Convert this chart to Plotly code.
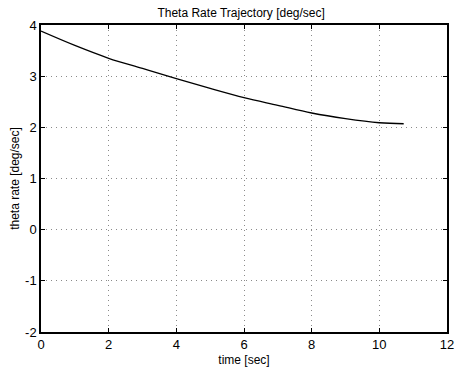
import plotly.graph_objects as go

# Theta rate trajectory samples
time_sec = [0, 1, 2, 3, 4, 5, 6, 7, 8, 9, 10, 10.72]
theta_rate = [3.88, 3.60, 3.35, 3.15, 2.95, 2.76, 2.58, 2.43, 2.28, 2.17, 2.09, 2.07]

x_ticks = [0, 2, 4, 6, 8, 10, 12]
y_ticks = [-2, -1, 0, 1, 2, 3, 4]
x_tick_text = [str(v) for v in x_ticks]
y_tick_text = [str(v) for v in y_ticks]  # plain hyphen-minus

font_family = "Liberation Sans, Arial, sans-serif"

fig = go.Figure()
fig.add_trace(go.Scatter(
    x=time_sec, y=theta_rate, mode="lines",
    line=dict(color="black", width=1.3, shape="spline"),
    showlegend=False,
))

axis_common = dict(
    showline=True, linecolor="black", linewidth=1.5, mirror="ticks",
    ticks="inside", ticklen=4, tickcolor="black", tickwidth=1,
    showgrid=True, gridcolor="#8a8a8a", gridwidth=1, griddash="1px,4px",
    zeroline=False, ticklabeloverflow="allow", automargin=False,
    tickfont=dict(family=font_family, size=13, color="black"),
)

fig.update_layout(
    width=455, height=369,
    margin=dict(l=41, r=8, t=25, b=37),
    paper_bgcolor="white", plot_bgcolor="white",
    title=dict(text="Theta Rate Trajectory [deg/sec]", x=0.53, xanchor="center",
               y=0.965, yanchor="middle",
               font=dict(family=font_family, size=12, color="black")),
    xaxis=dict(range=[0, 12], tickvals=x_ticks, ticktext=x_tick_text, **axis_common,
               title=dict(text="time [sec]", standoff=4,
                          font=dict(family=font_family, size=12, color="black"))),
    yaxis=dict(range=[-2, 4], tickvals=y_ticks, ticktext=y_tick_text, **axis_common,
               title=dict(text="theta rate [deg/sec]", standoff=3,
                          font=dict(family=font_family, size=12, color="black"))),
)

fig.write_html("out.html")
